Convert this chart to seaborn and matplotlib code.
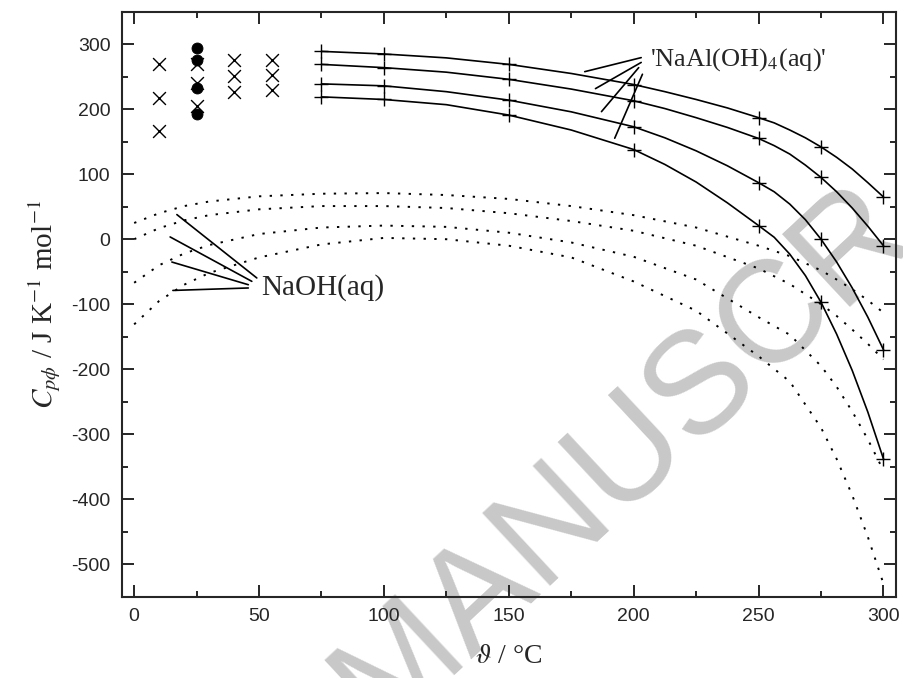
import numpy as np
import pandas as pd
import matplotlib
matplotlib.use("Agg")
import matplotlib.pyplot as plt
import matplotlib.transforms as mtransforms
import seaborn as sns

# ---------------- data ----------------
# 'NaAl(OH)4(aq)' model curves (solid lines)
al_T = [75, 87.5, 100, 125, 150, 175, 200, 212.5, 225, 237.5, 250, 256.25,
        262.5, 268.75, 275, 281.25, 287.5, 293.75, 300]
al_1 = [289, 287, 285, 279, 269, 255, 238, 227, 215, 202, 187, 179,
        168, 156, 142, 126, 108, 87, 65]
al_2 = [269, 266.5, 264, 257, 246, 231, 213, 201, 187, 172, 155, 144,
        131, 114, 95, 73, 48, 20, -10]
al_3 = [239, 237.5, 236, 227, 214, 196, 173, 156, 136, 113, 87, 73,
        54, 30, 0, -35, -75, -120, -170]
al_4 = [219, 217, 215, 207, 191, 168, 138, 115, 88, 56, 21, 3,
        -23, -56, -97, -146, -202, -266, -338]
# temperatures carrying '+' symbols
plus_T = [75, 100, 150, 200, 250, 275, 300]

# NaOH(aq) curves (dotted lines)
naoh_T = [0, 10, 20, 30, 50, 75, 100, 125, 150, 175, 200, 225, 250, 262.5,
          275, 281.25, 287.5, 293.75, 300]
naoh_1 = [25, 40, 51, 58, 66, 70, 71, 68, 62, 51, 37, 18, -10, -26,
          -48, -62, -77, -94, -113]
naoh_2 = [0, 17, 29, 37, 46, 51, 51, 48, 40, 28, 13, -10, -45, -69,
          -100, -118, -139, -161, -185]
naoh_3 = [-67, -40, -22, -9, 8, 18, 21, 19, 10, -5, -27, -62, -120, -147,
          -195, -227, -265, -308, -356]
naoh_4 = [-131, -95, -70, -52, -28, -8, 2, 0, -10, -28, -65, -110, -180, -219,
          -290, -338, -394, -458, -530]

# experimental points: crosses
cross_T = [10, 10, 10, 25, 25, 25, 40, 40, 40, 55, 55, 55]
cross_C = [269, 217, 167, 269, 240, 205, 275, 251, 226, 276, 252, 230]
# experimental points: filled circles
dot_T = [25, 25, 25, 25]
dot_C = [294, 275, 232, 192]

x_ticks = [0, 50, 100, 150, 200, 250, 300]
y_ticks = [300, 200, 100, 0, -100, -200, -300, -400, -500]

# ---------------- tables ----------------
al_df = pd.concat([pd.DataFrame({"T": al_T, "C": v, "s": f"al{i}"})
                   for i, v in enumerate([al_1, al_2, al_3, al_4])], ignore_index=True)
plus_df = al_df[al_df["T"].isin(plus_T)]
naoh_df = pd.concat([pd.DataFrame({"T": naoh_T, "C": v, "s": f"na{i}"})
                     for i, v in enumerate([naoh_1, naoh_2, naoh_3, naoh_4])], ignore_index=True)
cross_df = pd.DataFrame({"T": cross_T, "C": cross_C})
dot_df = pd.DataFrame({"T": dot_T, "C": dot_C})

# ---------------- style ----------------
sns.set_style("ticks")
plt.rcParams["font.family"] = ["Liberation Sans", "DejaVu Sans"]
plt.rcParams["mathtext.fontset"] = "stix"
plt.rcParams["axes.unicode_minus"] = False

fig = plt.figure(figsize=(9.04, 6.78), dpi=100)
ax = fig.add_axes([0.1346, 0.1199, 0.8565, 0.8628])
ax.patch.set_visible(False)

# watermark
ax.text(380, -55, "MANUSCR", transform=mtransforms.IdentityTransform(),
        rotation=43, rotation_mode="anchor", ha="left", va="baseline",
        fontsize=104, color="#c8c8c8", family="Liberation Sans",
        zorder=0.5, clip_on=False)

# dotted NaOH curves
sns.lineplot(data=naoh_df, x="T", y="C", units="s", estimator=None, sort=False,
             color="black", lw=1.4, linestyle=(0, (1.2, 4.3)), ax=ax, legend=False)
# solid NaAl(OH)4 curves
sns.lineplot(data=al_df, x="T", y="C", units="s", estimator=None, sort=False,
             color="black", lw=1.2, ax=ax, legend=False)
# markers
sns.scatterplot(data=plus_df, x="T", y="C", marker="+", s=90, color="black",
                linewidth=1.0, ax=ax, legend=False, zorder=3)
sns.scatterplot(data=cross_df, x="T", y="C", marker="x", s=85, color="black",
                linewidth=1.0, ax=ax, legend=False, zorder=3)
sns.scatterplot(data=dot_df, x="T", y="C", marker="o", s=62, color="black",
                edgecolor="black", ax=ax, legend=False, zorder=4)

ax.set_xlim(-5, 305)
ax.set_ylim(-550, 350)
ax.set_xticks(x_ticks)
ax.set_yticks(y_ticks)
ax.set_xticks([25, 75, 125, 175, 225, 275], minor=True)
ax.set_yticks([-550, -450, -350, -250, -150, -50, 50, 150, 250, 350], minor=True)
ax.tick_params(which="both", direction="in", top=True, right=True,
               width=1.4, labelsize=14, pad=8)
ax.tick_params(which="major", length=8.6)
ax.tick_params(which="minor", length=4.3)
for sp in ax.spines.values():
    sp.set_linewidth(1.5)

serif = ["Liberation Serif", "DejaVu Serif"]
ax.set_xlabel(r"$\vartheta$ / °C", fontsize=20, family=serif, labelpad=14)
ax.set_ylabel(r"$C_{p\phi}$ / J K$^{-1}$ mol$^{-1}$", fontsize=21, family=serif, labelpad=6)

# labels with leader lines
ax.text(206.4, 266.6, r"'NaAl(OH)$_4$(aq)'", fontsize=19, family=serif,
        ha="left", va="baseline")
for start, end in [((203.0, 279.4), (180.4, 257.8)),
                   ((203.0, 272.0), (184.7, 231.7)),
                   ((202.0, 264.0), (187.1, 196.3)),
                   ((203.5, 253.8), (192.4, 155.4))]:
    ax.annotate("", xy=end, xytext=start,
                arrowprops=dict(arrowstyle="-", color="black", lw=1.2,
                                shrinkA=0, shrinkB=0))

ax.text(51.0, -85.7, "NaOH(aq)", fontsize=21, family=serif,
        ha="left", va="baseline")
for start, end in [((49.1, -59.6), (17.1, 37.9)),
                   ((47.1, -64.8), (14.4, 3.5)),
                   ((45.7, -70.0), (15.1, -35.1)),
                   ((45.7, -75.0), (15.5, -78.8))]:
    ax.annotate("", xy=end, xytext=start,
                arrowprops=dict(arrowstyle="-", color="black", lw=1.2,
                                shrinkA=0, shrinkB=0))

fig.savefig("out.png", dpi=100)
